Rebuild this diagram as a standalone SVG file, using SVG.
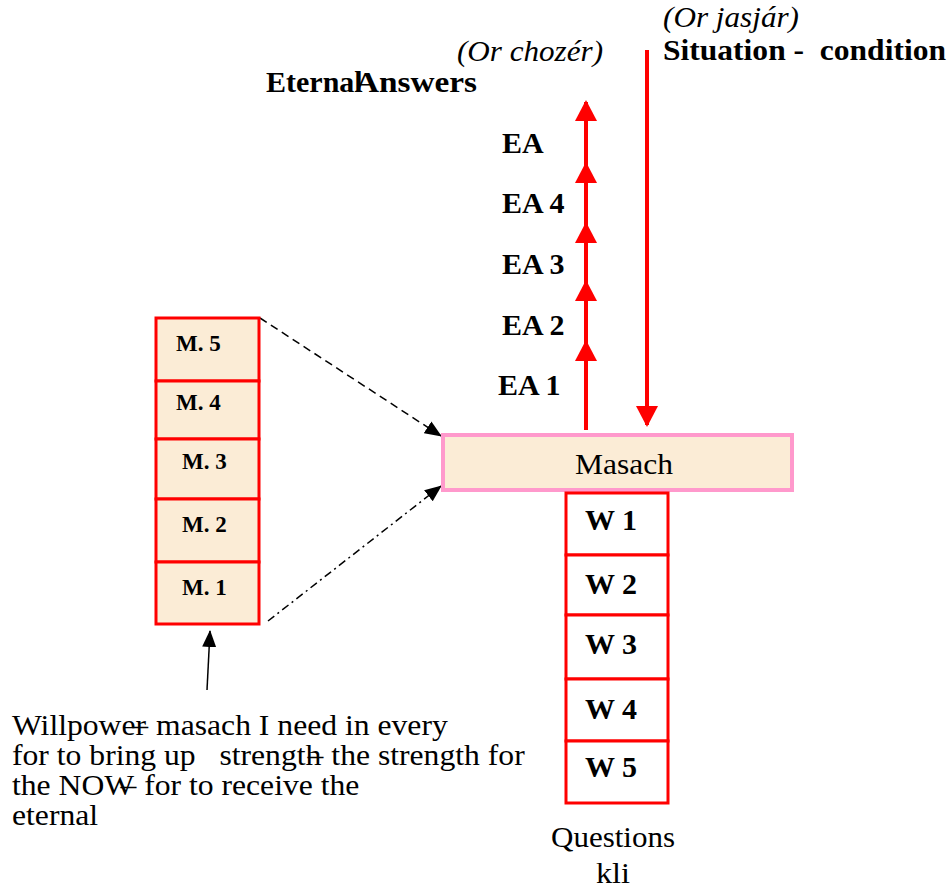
<svg xmlns="http://www.w3.org/2000/svg" width="949" height="888" viewBox="0 0 949 888">
<style>
  text { font-family: "Liberation Serif", "Times New Roman", serif; fill: #000; }
  .b { font-weight: bold; }
  .i { font-style: italic; }
  .mbox { fill: #fbecd6; stroke: #ff0000; stroke-width: 3; }
  .wbox { fill: #ffffff; stroke: #ff0000; stroke-width: 3; }
  .red { stroke: #ff0000; stroke-width: 4; fill: none; }
  .blk { stroke: #000; stroke-width: 1.5; fill: none; }
</style>
<defs>
  <marker id="redHead" markerUnits="userSpaceOnUse" markerWidth="22" markerHeight="22" refX="19" refY="11" orient="auto" viewBox="0 0 22 22">
    <path d="M0,0 L21,11 L0,22 z" fill="#ff0000"/>
  </marker>
  <marker id="blkHead" markerUnits="userSpaceOnUse" markerWidth="18" markerHeight="16" refX="16" refY="7" orient="auto" viewBox="0 0 18 14">
    <path d="M0,0 L17,7 L0,14 z" fill="#000"/>
  </marker>
</defs>

<rect width="949" height="888" fill="#ffffff"/>

<g id="labels-top">
  <text class="i" x="663" y="27" font-size="30" textLength="136" lengthAdjust="spacingAndGlyphs">(Or jasjár)</text>
  <text class="b" x="663" y="60" font-size="30" textLength="283" lengthAdjust="spacingAndGlyphs" xml:space="preserve">Situation -  condition</text>
  <text class="i" x="457" y="61" font-size="30" textLength="146" lengthAdjust="spacingAndGlyphs">(Or chozér)</text>
  <text class="b" font-size="30" y="92"><tspan x="266">Eternal</tspan><tspan x="355" textLength="122" lengthAdjust="spacingAndGlyphs">Answers</tspan></text>
</g>

<g id="ea-labels">
  <text class="b" x="502" y="153" font-size="30">EA</text>
  <text class="b" x="502" y="213" font-size="30">EA 4</text>
  <text class="b" x="502" y="274" font-size="30">EA 3</text>
  <text class="b" x="502" y="335" font-size="30">EA 2</text>
  <text class="b" x="498" y="395" font-size="30">EA 1</text>
</g>

<g id="connectors">
  <polyline class="red" points="586,430 586,342 586,282 586,224 586,164 586,102" marker-mid="url(#redHead)" marker-end="url(#redHead)"/>
  <line class="red" x1="647" y1="50" x2="647" y2="425" marker-end="url(#redHead)"/>
  <line class="blk" x1="260" y1="318" x2="441" y2="436" stroke-dasharray="8,5" marker-end="url(#blkHead)"/>
  <line class="blk" x1="268" y1="621" x2="441" y2="486" stroke-dasharray="8,4,2,4" marker-end="url(#blkHead)"/>
  <line class="blk" x1="207" y1="690" x2="210" y2="631" marker-end="url(#blkHead)"/>
</g>

<g id="masach">
  <rect x="443" y="435" width="349" height="55" fill="#fbecd6" stroke="#ff99cc" stroke-width="4"/>
  <text x="575" y="474" font-size="30" textLength="98" lengthAdjust="spacingAndGlyphs">Masach</text>
</g>

<g id="m-stack">
  <g id="m5"><rect class="mbox" x="156" y="318" width="103" height="63"/><text class="b" x="176" y="351" font-size="23">M. 5</text></g>
  <g id="m4"><rect class="mbox" x="156" y="381" width="103" height="58"/><text class="b" x="176" y="410" font-size="23">M. 4</text></g>
  <g id="m3"><rect class="mbox" x="156" y="439" width="103" height="60"/><text class="b" x="182" y="469" font-size="23">M. 3</text></g>
  <g id="m2"><rect class="mbox" x="156" y="499" width="103" height="63"/><text class="b" x="182" y="532" font-size="23">M. 2</text></g>
  <g id="m1"><rect class="mbox" x="156" y="562" width="103" height="62"/><text class="b" x="182" y="595" font-size="23">M. 1</text></g>
</g>

<g id="w-stack">
  <g id="w1"><rect class="wbox" x="566" y="493" width="102" height="62"/><text class="b" x="585" y="530" font-size="30">W 1</text></g>
  <g id="w2"><rect class="wbox" x="566" y="555" width="102" height="60"/><text class="b" x="585" y="594" font-size="30">W 2</text></g>
  <g id="w3"><rect class="wbox" x="566" y="615" width="102" height="64"/><text class="b" x="585" y="654" font-size="30">W 3</text></g>
  <g id="w4"><rect class="wbox" x="566" y="679" width="102" height="62"/><text class="b" x="585" y="719" font-size="30">W 4</text></g>
  <g id="w5"><rect class="wbox" x="566" y="741" width="102" height="62"/><text class="b" x="585" y="777" font-size="30">W 5</text></g>
</g>

<g id="questions">
  <text x="551" y="847" font-size="30" textLength="124" lengthAdjust="spacingAndGlyphs">Questions</text>
  <text x="596" y="883" font-size="30" textLength="34" lengthAdjust="spacingAndGlyphs">kli</text>
</g>

<g id="willpower-note" transform="translate(12,0) scale(1.055,1)">
  <text font-size="30" xml:space="preserve"><tspan x="0" y="735">Willpower<tspan dx="-13">–</tspan> masach I need in every</tspan><tspan x="0" y="765">for to bring up   strength<tspan dx="-13">–</tspan> the strength for</tspan><tspan x="0" y="795">the NOW<tspan dx="-13">–</tspan> for to receive the</tspan><tspan x="0" y="825">eternal</tspan></text>
</g>
</svg>
